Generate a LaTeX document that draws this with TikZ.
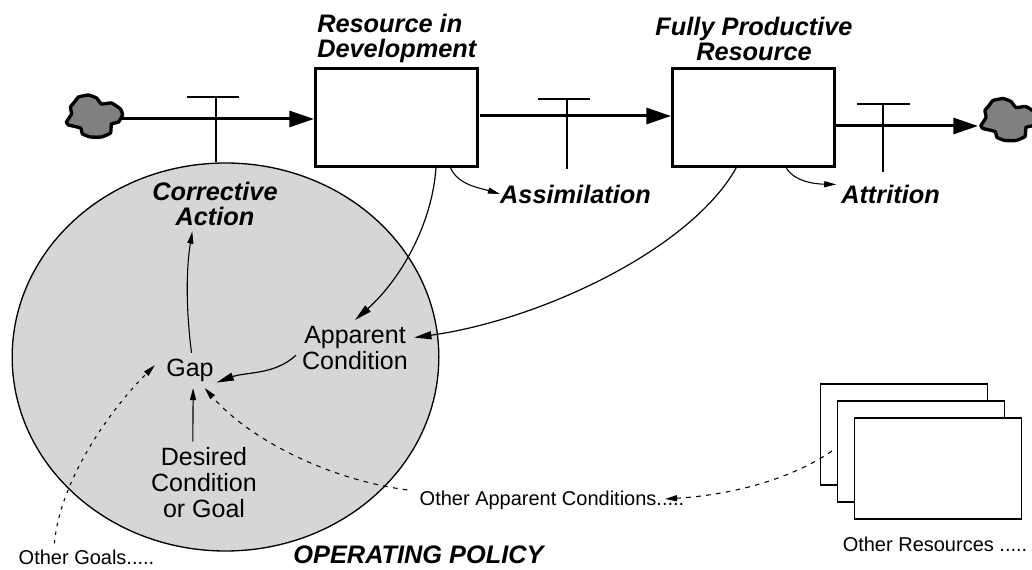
\documentclass[tikz,border=0pt]{standalone}
\usepackage{fontspec}
\setmainfont{Liberation Sans}
\usetikzlibrary{arrows.meta,shapes.geometric}
\definecolor{policygray}{HTML}{D6D6D6}
\definecolor{blobgray}{HTML}{808080}
\tikzset{
  stockbox/.style={draw,line width=2.25pt,fill=white,minimum width=121.5pt,minimum height=73.5pt,inner sep=0pt},
  stackbox/.style={draw,line width=1.2pt,fill=white,minimum width=125pt,minimum height=76pt,inner sep=0pt},
  boldlabel/.style={font=\bfseries\itshape\fontsize{19}{18.75}\selectfont,align=center,inner sep=0pt},
  plainlabel/.style={font=\fontsize{18.75}{19.5}\selectfont,align=center,inner sep=4.5pt},
  smalllabel/.style={font=\fontsize{15}{18}\selectfont,inner sep=4.5pt},
  flow/.style={line width=2.25pt,-{Triangle[length=18.5pt,width=12pt]}},
  valve/.style={line width=2pt},
  link/.style={line width=.8pt,-{Triangle[length=9pt,width=4.5pt]}},
  biglink/.style={line width=.9pt,-{Triangle[length=13pt,width=6pt]}},
  otherlink/.style={link,dash pattern=on 3.5pt off 4pt},
  blob/.pic={
    \draw[line width=2.5pt,fill=blobgray] plot[smooth cycle,tension=.25] coordinates {
      (28,-1) (26,-7) (17,-13) (7,-12) (2,-18) (-6,-21) (-16,-19) (-20,-14) (-24,-9) (-23,-2)
      (-28,6) (-26,9) (-14,12) (-12,18) (-4,21) (7,21) (16,17) (17,8) (24,6)};
  }
}
\begin{document}
\begin{tikzpicture}[x=0.75pt,y=-0.75pt]
  \useasboundingbox (0,0) rectangle (1032,570);
  \node[ellipse,draw,line width=1pt,fill=policygray,minimum width=320pt,minimum height=291pt,inner sep=0pt] (policy) at (225.5,357) {};

  \node[stockbox] (devbox)  at (396.5,117.5) {};
  \node[stockbox] (prodbox) at (753.5,117.5) {};
  \node[stackbox] (stacka) at (904,434.5) {};
  \node[stackbox] (stackb) at (921,451.5) {};
  \node[stackbox] (stackc) at (938,468.5) {};

  \pic at (94.5,116) {blob};
  \pic at (1009,119.5) {blob};

  \node[boldlabel,align=left,anchor=west] (devname) at (317,38) {Resource in\\Development};
  \node[boldlabel] (prodname) at (754,38.5) {Fully Productive\\Resource};
  \node[boldlabel,inner sep=4.5pt] (corrective) at (215,203.5) {Corrective\\Action};
  \node[boldlabel] (assimilation) at (575.5,194) {Assimilation};
  \node[boldlabel,inner xsep=3.75pt] (attrition) at (890.5,194) {Attrition};
  \node[boldlabel] (policyname) at (418.5,555) {OPERATING POLICY};

  \node[plainlabel] (apparent) at (355,348) {Apparent\\Condition};
  \node[plainlabel] (gap) at (190,370.5) {Gap};
  \node[plainlabel] (desired) at (204,483) {Desired\\Condition\\or Goal};
  \node[smalllabel] (othergoals) at (86.5,557) {Other Goals.....};
  \node[smalllabel,inner sep=9pt] (otherapparent) at (552,500) {Other Apparent Conditions.....};
  \node[smalllabel] (otherres) at (935,544) {Other Resources .....};

  \coordinate (source) at (122,119);
  \coordinate (flowb) at (480,116);
  \coordinate (sink) at (978,126);
  \coordinate (valvea) at (216,97);
  \coordinate (valveb) at (567,99);
  \coordinate (valvec) at (883,104);
  \coordinate (dotsend) at (665,499);
  \coordinate (stackout) at (832,451);

  \draw[flow] (source) -- (source -| devbox.west);
  \draw[flow] (flowb) -- (flowb -| prodbox.west);
  \draw[flow] (sink -| prodbox.east) -- (sink);

  \draw[valve] (valvea) -- (valvea |- policy.north);
  \draw[valve] ([xshift=-21.75pt]valvea) -- ([xshift=17pt]valvea);
  \draw[valve] (valveb) -- ++(0,70);
  \draw[valve] ([xshift=-22pt]valveb) -- ([xshift=17.5pt]valveb);
  \draw[valve] (valvec) -- ++(0,68);
  \draw[valve] ([xshift=-19.5pt]valvec) -- ([xshift=20pt]valvec);

  \draw[biglink] (devbox.-52) .. controls (432,225) and (400,280) .. (apparent.north);
  \draw[biglink] (prodbox.-109) .. controls (690,250) and (540,320) .. (apparent.10);
  \draw[link] (devbox.-43) .. controls (458,185) and (480,188) .. (assimilation.west);
  \draw[link] (prodbox.-57) .. controls (795,182) and (815,184) .. (attrition.170);
  \draw[link] (gap.85) .. controls (186,310) and (186,270) .. (corrective.-129);
  \draw[biglink] (apparent.187) .. controls (275,375) and (245,372) .. ([xshift=-2.5pt]gap.-22);
  \draw[link] (desired.105) -- (gap.-80);
  \draw[otherlink,dash pattern=on 2.5pt off 4pt] (othergoals.157) .. controls (60,480) and (110,410) .. ([xshift=-4pt]gap.170);
  \draw[otherlink] (otherapparent.176.4) .. controls (330,480) and (250,440) .. (gap.-50);
  \draw[otherlink] (stackout) .. controls (790,480) and (730,495) .. (dotsend);
\end{tikzpicture}
\end{document}
